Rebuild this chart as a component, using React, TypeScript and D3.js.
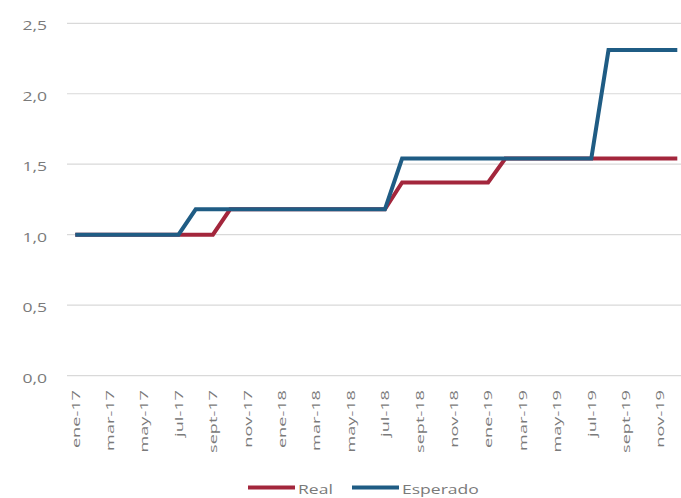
import React from "react";
import * as d3 from "d3";

// Monthly series, ene-17 .. dic-19
const months: string[] = [
  "ene-17", "feb-17", "mar-17", "abr-17", "may-17", "jun-17", "jul-17", "ago-17", "sept-17", "oct-17", "nov-17", "dic-17",
  "ene-18", "feb-18", "mar-18", "abr-18", "may-18", "jun-18", "jul-18", "ago-18", "sept-18", "oct-18", "nov-18", "dic-18",
  "ene-19", "feb-19", "mar-19", "abr-19", "may-19", "jun-19", "jul-19", "ago-19", "sept-19", "oct-19", "nov-19", "dic-19",
];

const real: number[] = [
  1.0, 1.0, 1.0, 1.0, 1.0, 1.0, 1.0, 1.0, 1.0, 1.18, 1.18, 1.18,
  1.18, 1.18, 1.18, 1.18, 1.18, 1.18, 1.18, 1.37, 1.37, 1.37, 1.37, 1.37,
  1.37, 1.54, 1.54, 1.54, 1.54, 1.54, 1.54, 1.54, 1.54, 1.54, 1.54, 1.54,
];

const esperado: number[] = [
  1.0, 1.0, 1.0, 1.0, 1.0, 1.0, 1.0, 1.18, 1.18, 1.18, 1.18, 1.18,
  1.18, 1.18, 1.18, 1.18, 1.18, 1.18, 1.18, 1.54, 1.54, 1.54, 1.54, 1.54,
  1.54, 1.54, 1.54, 1.54, 1.54, 1.54, 1.54, 2.31, 2.31, 2.31, 2.31, 2.31,
];

const yTicks: number[] = [0, 0.5, 1.0, 1.5, 2.0, 2.5];

const seriesNames: string[] = ["Real", "Esperado"];
const seriesColors: string[] = ["#a3263c", "#1f5c84"];

const W = 681;
const H = 498;
const FONT = "'Open Sans', 'Liberation Sans', sans-serif";
const TEXT_COLOR = "#7a7a7a";

export default function App() {
  const x = d3.scaleBand<string>().domain(months).range([66.7, 66.7 + 36 * 17.2]).paddingInner(0).paddingOuter(0);
  const cx = (m: string) => (x(m) as number) + x.bandwidth() / 2;
  const y = d3.scaleLinear().domain([0, 2.5]).range([375.6, 23.3]);

  const line = d3
    .line<number>()
    .x((_, i) => cx(months[i]))
    .y((d) => y(d));

  const series = [real, esperado];
  const fmt = (v: number) => v.toFixed(1).replace(".", ",");

  return (
    <svg
      width={W}
      height={H}
      viewBox={`0 0 ${W} ${H}`}
      style={{ position: "fixed", left: 0, top: 0, background: "#fff" }}
    >
      <rect x={0} y={0} width={W} height={H} fill="#fff" />
      {/* gridlines and y labels */}
      {yTicks.map((t) => (
        <g key={t}>
          <line x1={67} x2={W} y1={y(t)} y2={y(t)} stroke="#d9d9d9" strokeWidth={1.2} />
          <text
            transform={`translate(47,${y(t) + 2}) scale(1.35,1)`}
            textAnchor="end"
            dominantBaseline="central"
            fontFamily={FONT}
            fontSize={13}
            fill={TEXT_COLOR}
          >
            {fmt(t)}
          </text>
        </g>
      ))}

      {/* x labels every two months */}
      {months.map((m, i) =>
        i % 2 === 0 ? (
          <text
            key={m}
            transform={`translate(${cx(m)},390) rotate(-90) scale(1.65,1)`}
            textAnchor="end"
            dominantBaseline="central"
            fontFamily={FONT}
            fontSize={11}
            fill={TEXT_COLOR}
          >
            {m}
          </text>
        ) : null
      )}

      {/* series lines */}
      {series.map((s, k) => (
        <path
          key={seriesNames[k]}
          d={line(s) || ""}
          fill="none"
          stroke={seriesColors[k]}
          strokeWidth={4}
          strokeLinejoin="miter"
          strokeLinecap="butt"
        />
      ))}

      {/* legend */}
      {seriesNames.map((n, k) => {
        const lx = k === 0 ? 248 : 352;
        return (
          <g key={n}>
            <line x1={lx} x2={lx + 47} y1={487.5} y2={487.5} stroke={seriesColors[k]} strokeWidth={4} />
            <text
              transform={`translate(${lx + 50},${489}) scale(1.35,1)`}
              dominantBaseline="central"
              fontFamily={FONT}
              fontSize={13}
              fill={TEXT_COLOR}
            >
              {n}
            </text>
          </g>
        );
      })}
    </svg>
  );
}
